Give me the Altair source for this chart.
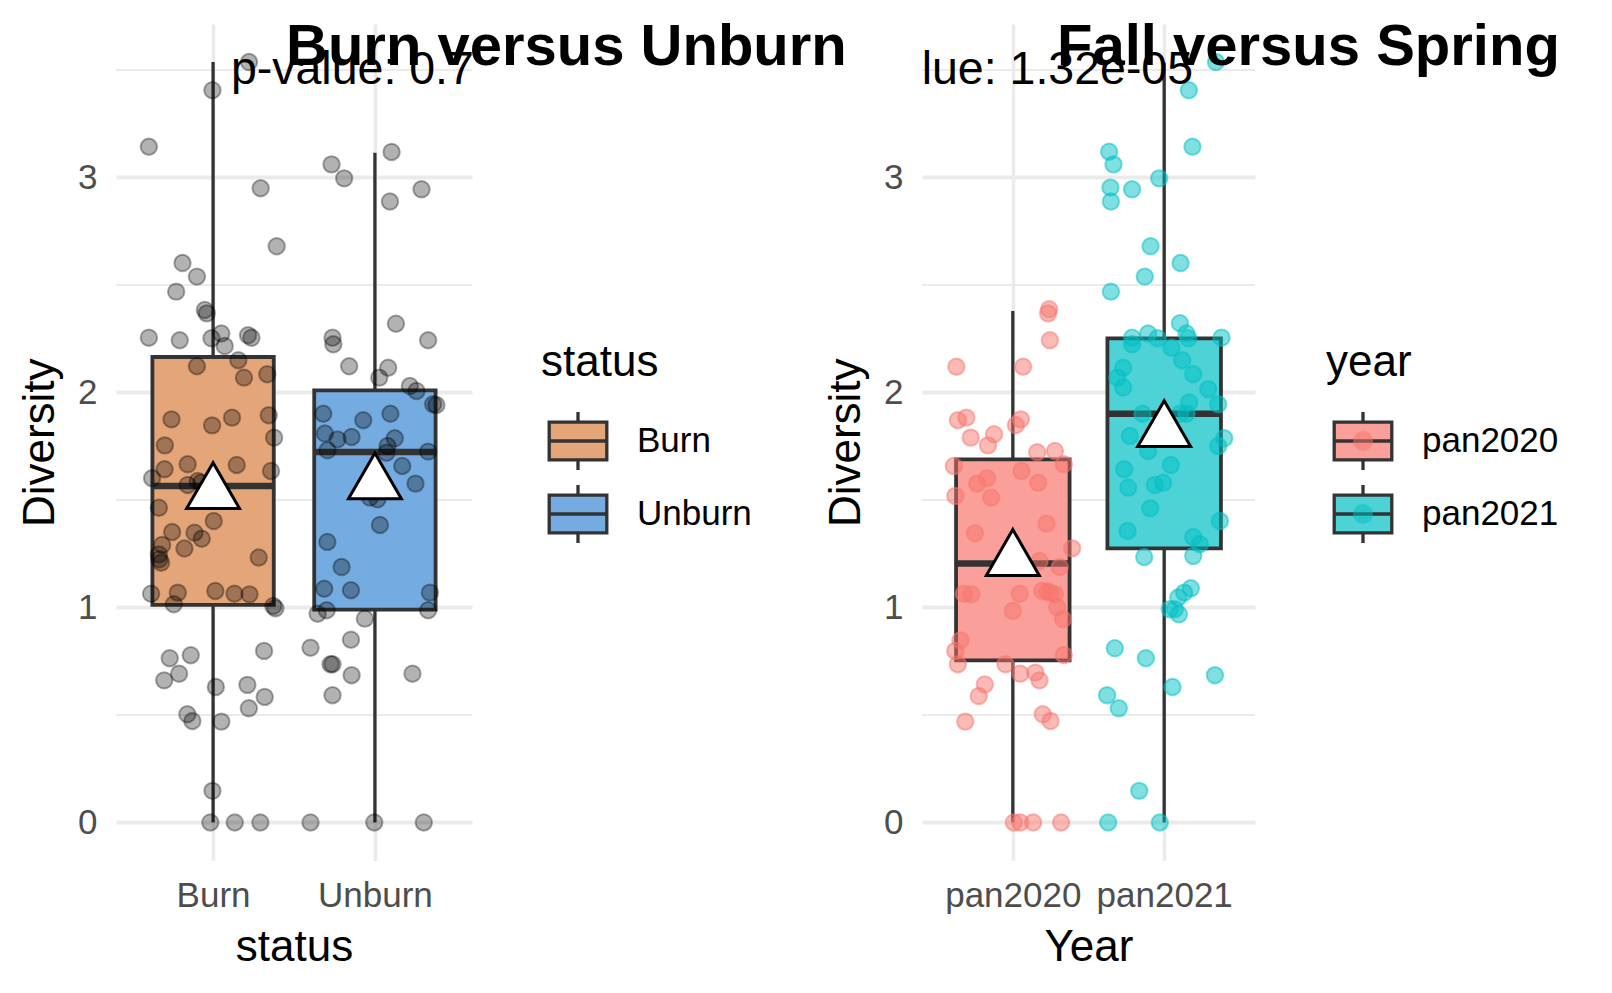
import altair as alt
import pandas as pd

# ---------------- data ----------------
status_levels = ["Burn", "Unburn"]
year_levels = ["pan2020", "pan2021"]

burn_vals = [3.537, 3.406, 3.143, 2.950, 2.680, 2.602, 2.539, 2.469, 2.384, 2.368,
             2.255, 2.243, 2.252, 2.274, 2.266, 2.255, 2.216, 2.150, 2.122, 2.069,
             2.085, 1.875, 1.847, 1.883, 1.894, 1.790, 1.754, 1.666, 1.643, 1.601,
             1.663, 1.635, 1.570, 1.588, 1.580, 1.464, 1.402, 1.351, 1.348, 1.320,
             1.291, 1.274, 1.247, 1.224, 1.208, 1.232, 1.064, 1.069, 1.077, 1.064,
             1.061, 1.015, 1.007, 0.996, 0.764, 0.778, 0.692, 0.661, 0.798, 0.630,
             0.640, 0.584, 0.531, 0.503, 0.472, 0.469, 0.147, 0.0, 0.0, 0.0]
burn_jit = [0.222, -0.004, -0.397, 0.294, 0.393, -0.189, -0.100, -0.228, -0.051, -0.039,
            -0.397, -0.206, -0.010, 0.051, 0.216, 0.237, 0.072, 0.156, -0.100, 0.191,
            0.335, -0.257, -0.006, 0.117, 0.344, 0.377, -0.298, -0.157, -0.300, -0.377,
            0.146, 0.358, -0.157, -0.095, -0.074, -0.335, 0.004, -0.253, -0.115, -0.070,
            -0.315, -0.177, -0.335, -0.332, -0.321, 0.282, -0.383, -0.218, 0.014, 0.132,
            0.225, -0.243, 0.372, 0.385, -0.268, -0.138, -0.210, -0.302, 0.315, 0.017,
            0.212, 0.319, 0.221, -0.159, -0.128, 0.051, -0.004, -0.017, 0.134, 0.292]

unburn_vals = [3.119, 3.061, 2.996, 2.945, 2.888, 2.320, 2.243, 2.255, 2.224, 2.122,
               2.115, 2.069, 2.030, 2.007, 1.945, 1.942, 1.901, 1.871, 1.901, 1.809,
               1.782, 1.793, 1.787, 1.751, 1.731, 1.720, 1.725, 1.658, 1.576, 1.511,
               1.503, 1.384, 1.305, 1.188, 1.087, 1.080, 1.069, 0.971, 0.987, 0.987,
               0.948, 0.850, 0.813, 0.736, 0.736, 0.685, 0.692, 0.592, 0.0, 0.0, 0.0]
unburn_jit = [0.103, -0.268, -0.190, 0.288, 0.093, 0.130, 0.329, -0.262, -0.257, -0.159,
              0.082, 0.027, 0.216, 0.257, 0.360, 0.380, -0.319, -0.072, 0.096, -0.309,
              -0.231, -0.144, 0.123, 0.078, -0.293, 0.072, 0.329, 0.169, 0.251, -0.031,
              0.016, 0.031, -0.294, -0.206, -0.313, -0.148, 0.340, -0.354, -0.298, 0.329,
              -0.062, -0.148, -0.398, -0.274, -0.262, -0.144, 0.232, -0.262, -0.398, -0.004, 0.302]

pan2020_vals = [2.387, 2.368, 2.243, 2.120, 2.120, 1.871, 1.883, 1.790, 1.806, 1.754,
                1.875, 1.849, 1.722, 1.728, 1.658, 1.666, 1.635, 1.576, 1.601, 1.580,
                1.519, 1.511, 1.390, 1.345, 1.275, 1.216, 1.188, 1.064, 1.061, 1.064,
                1.077, 1.074, 1.069, 1.061, 0.984, 1.002, 0.945, 0.847, 0.798, 0.736,
                0.779, 0.736, 0.692, 0.697, 0.661, 0.642, 0.588, 0.469, 0.503, 0.472,
                0.0, 0.0, 0.0, 0.0]
pan2020_jit = [0.240, 0.233, 0.245, -0.373, 0.068, -0.363, -0.307, -0.278, -0.124, -0.164,
               0.053, 0.020, 0.161, 0.278, -0.390, 0.337, 0.057, -0.236, -0.170, 0.167,
               -0.380, -0.143, 0.222, -0.250, 0.392, 0.176, 0.310, -0.324, -0.273, 0.046,
               0.194, 0.227, 0.249, 0.278, 0.000, 0.293, 0.332, -0.346, -0.380, -0.363,
               0.337, -0.049, 0.050, 0.149, 0.176, -0.185, -0.225, -0.314, 0.198, 0.249,
               0.007, 0.050, 0.134, 0.319]

pan2021_vals = [3.537, 3.406, 3.143, 3.120, 3.061, 2.996, 2.953, 2.945, 2.888, 2.680,
                2.602, 2.539, 2.469, 2.322, 2.274, 2.252, 2.255, 2.224, 2.274, 2.252,
                2.255, 2.208, 2.150, 2.115, 2.085, 2.069, 2.023, 2.015, 1.953, 1.945,
                1.901, 1.901, 1.901, 1.798, 1.787, 1.751, 1.728, 1.663, 1.643, 1.557,
                1.570, 1.580, 1.461, 1.402, 1.356, 1.328, 1.294, 1.235, 1.240, 1.089,
                1.069, 1.046, 0.992, 0.992, 0.968, 0.810, 0.764, 0.685, 0.630, 0.592,
                0.531, 0.147, 0.0, 0.0]
pan2021_jit = [0.342, 0.163, 0.187, -0.364, -0.335, -0.033, -0.355, -0.212, -0.352, -0.090,
               0.108, -0.128, -0.352, 0.104, 0.147, 0.159, -0.212, -0.212, -0.106, -0.044,
               0.379, 0.048, 0.119, -0.271, 0.192, -0.309, -0.271, 0.291, 0.165, 0.357,
               -0.143, 0.104, 0.147, -0.227, 0.397, 0.357, -0.106, 0.044, -0.264, -0.238,
               -0.062, -0.007, -0.092, 0.368, -0.242, 0.192, 0.236, -0.132, 0.192, 0.176,
               0.132, 0.093, 0.037, 0.070, 0.097, -0.326, -0.121, 0.335, 0.055, -0.377,
               -0.300, -0.165, -0.370, -0.029]

# box statistics: lower whisker, q1, median, q3, upper whisker, mean
status_lo = [0.0, 0.0]
status_q1 = [1.012, 0.990]
status_med = [1.565, 1.723]
status_q3 = [2.165, 2.010]
status_hi = [3.537, 3.115]
status_mean = [1.531, 1.576]

year_lo = [0.0, 0.0]
year_q1 = [0.754, 1.275]
year_med = [1.205, 1.901]
year_q3 = [1.689, 2.252]
year_hi = [2.379, 3.534]
year_mean = [1.220, 1.819]

y_ticks = [0, 1, 2, 3]
y_minor = [0.5, 1.5, 2.5, 3.5]

# ---------------- styling ----------------
FONT = "Liberation Sans"
GRID = "#EBEBEB"
DARK = "#333333"
BOX_W = 0.75
XDOM = [0.4, 2.6]
YDOM = [-0.177, 3.714]

PATH_BOX = "M-0.9,-0.59H0.9V0.59H-0.9Z M-0.9,0H0.9 M0,-0.906V-0.59 M0,0.59V0.906"
PATH_DOT = ("M-0.9,-0.906L-0.9,-0.906M0.9,0.906L0.9,0.906"
            "M-0.26,0A0.26,0.26 0 1,0 0.26,0A0.26,0.26 0 1,0 -0.26,0Z")


def make_panel(levels, field, box_colors, vals_list, jit_list, lo, q1, med, q3, hi, mean,
               xtitle, title_text, title_dx, pval_text, pval_x, pval_align,
               point_colors, legend_x, panel_w):
    rows = []
    for i, (vals, jits) in enumerate(zip(vals_list, jit_list)):
        for v, j in zip(vals, jits):
            rows.append({"value": v, "xpos": i + 1 + j, field: levels[i], field + "_pt": levels[i]})
    pts = pd.DataFrame(rows)
    stats = pd.DataFrame({
        field: levels,
        "pos": [1, 2],
        "xlo": [1 - BOX_W / 2, 2 - BOX_W / 2],
        "xhi": [1 + BOX_W / 2, 2 + BOX_W / 2],
        "lo": lo, "q1": q1, "med": med, "q3": q3, "hi": hi, "mean": mean,
    })

    xscale = alt.Scale(domain=XDOM, nice=False, zero=False)
    yscale = alt.Scale(domain=YDOM, nice=False, zero=False)
    label_expr = f"datum.value == 1 ? '{levels[0]}' : '{levels[1]}'"
    xaxis = alt.Axis(values=[1, 2], labelExpr=label_expr, title=xtitle, grid=True,
                     gridColor=GRID, gridWidth=3.5, domain=False, ticks=False, tickSize=0,
                     labelFontSize=35, labelColor="#4D4D4D", labelPadding=18,
                     titleFontSize=44, titleFontWeight="normal", titleColor="black",
                     titlePadding=12, labelFont=FONT, titleFont=FONT)
    yaxis = alt.Axis(values=y_ticks, format="d", title="Diversity", grid=True, gridColor=GRID,
                     gridWidth=3.8, domain=False, ticks=False, tickSize=0,
                     labelFontSize=35, labelColor="#4D4D4D", labelPadding=19,
                     titleFontSize=44, titleFontWeight="normal", titleColor="black",
                     titlePadding=15, labelFont=FONT, titleFont=FONT)

    base_s = alt.Chart(stats)

    minor = alt.Chart(pd.DataFrame({"m": y_minor})).mark_rule(
        color=GRID, strokeWidth=1.9).encode(
        y=alt.Y("m:Q", scale=yscale, axis=yaxis))

    box_legend = alt.Legend(
        title=field, orient="none", legendX=legend_x, legendY=317, padding=0,
        symbolType=PATH_BOX, symbolSize=4096, symbolStrokeColor=DARK,
        symbolStrokeWidth=3.3, symbolOpacity=1, symbolOffset=3,
        labelFontSize=35, labelFont=FONT, labelColor="black", labelOffset=25,
        titleFontSize=44, titleFont=FONT, titleFontWeight="normal", titleColor="black",
        titlePadding=22, rowPadding=1, direction="vertical")

    box = base_s.mark_rect(stroke=DARK, strokeWidth=3.8).encode(
        x=alt.X("xlo:Q", scale=xscale, axis=xaxis),
        x2="xhi:Q",
        y=alt.Y("q1:Q", scale=yscale),
        y2="q3:Q",
        fill=alt.Fill(field + ":N", scale=alt.Scale(domain=levels, range=box_colors),
                      legend=box_legend))

    w_up = base_s.mark_rule(color=DARK, strokeWidth=3.3).encode(
        x=alt.X("pos:Q", scale=xscale), y=alt.Y("q3:Q", scale=yscale), y2="hi:Q")
    w_dn = base_s.mark_rule(color=DARK, strokeWidth=3.3).encode(
        x=alt.X("pos:Q", scale=xscale), y=alt.Y("lo:Q", scale=yscale), y2="q1:Q")
    median = base_s.mark_rule(color=DARK, strokeWidth=6.5).encode(
        x=alt.X("xlo:Q", scale=xscale), x2="xhi:Q", y=alt.Y("med:Q", scale=yscale))

    if point_colors is None:
        points = alt.Chart(pts).mark_circle(
            size=270, color="black", fillOpacity=0.3, stroke="black",
            strokeOpacity=0.33, strokeWidth=2).encode(
            x=alt.X("xpos:Q", scale=xscale), y=alt.Y("value:Q", scale=yscale))
    else:
        dot_legend = alt.Legend(
            title=field, orient="none", legendX=legend_x, legendY=317, padding=0,
            symbolType=PATH_DOT, symbolSize=4096, symbolStrokeWidth=3.3,
            symbolStrokeColor="transparent",
            symbolOpacity=0.5, symbolOffset=3,
            labelFontSize=35, labelFont=FONT, labelOpacity=0, labelOffset=25,
            titleFontSize=44, titleFont=FONT, titleFontWeight="normal", titleOpacity=0,
            titlePadding=22, rowPadding=1, direction="vertical")
        points = alt.Chart(pts).mark_circle(
            size=270, fillOpacity=0.5, strokeOpacity=0.5, strokeWidth=2).encode(
            x=alt.X("xpos:Q", scale=xscale), y=alt.Y("value:Q", scale=yscale),
            fill=alt.Fill(field + "_pt:N", scale=alt.Scale(domain=levels, range=point_colors),
                          legend=dot_legend),
            stroke=alt.Stroke(field + "_pt:N", scale=alt.Scale(domain=levels, range=point_colors),
                              legend=None))

    tri = base_s.mark_point(shape="triangle-up", size=2800, filled=True, fill="white",
                            stroke="black", strokeWidth=3, opacity=1, yOffset=-7.7).encode(
        x=alt.X("pos:Q", scale=xscale), y=alt.Y("mean:Q", scale=yscale))

    pval = alt.Chart(pd.DataFrame({"t": [pval_text], "px": [pval_x], "py": [3.435]})).mark_text(
        clip=True, fontSize=46.5, font=FONT, align=pval_align, baseline="alphabetic",
        color="black").encode(
        x=alt.X("px:Q", scale=xscale), y=alt.Y("py:Q", scale=yscale), text="t:N")

    layers = alt.layer(minor, box, w_up, w_dn, median, points, tri, pval).resolve_scale(
        fill="independent", stroke="independent")
    return layers.properties(
        width=panel_w, height=836.5,
        title=alt.TitleParams(title_text, anchor="start", frame="group", dx=title_dx,
                              dy=40, offset=-59, fontSize=58, fontWeight="bold", font=FONT,
                              color="black", baseline="alphabetic"))


left = make_panel(status_levels, "status", ["#E4A578", "#74ACE1"],
                  [burn_vals, unburn_vals], [burn_jit, unburn_jit],
                  status_lo, status_q1, status_med, status_q3, status_hi, status_mean,
                  "status", "Burn versus Unburn", 170, "p-value: 0.707", 1.11, "left",
                  None, 425, 356)
right = make_panel(year_levels, "year", ["#FA9F99", "#4DD2D6"],
                   [pan2020_vals, pan2021_vals], [pan2020_jit, pan2021_jit],
                   year_lo, year_q1, year_med, year_q3, year_hi, year_mean,
                   "Year", "Fall versus Spring", 135, "p-value: 1.32e-05", 2.191, "right",
                   ["#F8766D", "#00BFC4"], 404, 333)

chart = alt.hconcat(left, right, spacing=450, bounds="flush").resolve_scale(
    x="independent", y="independent", fill="independent", stroke="independent"
).configure(
    font=FONT, background="white",
    view=alt.ViewConfig(strokeWidth=0, stroke="transparent"),
).properties(
    padding={"left": 18, "top": 19, "right": 5, "bottom": 5})

chart.save("out.html", embed_options={"renderer": "svg", "actions": False})
